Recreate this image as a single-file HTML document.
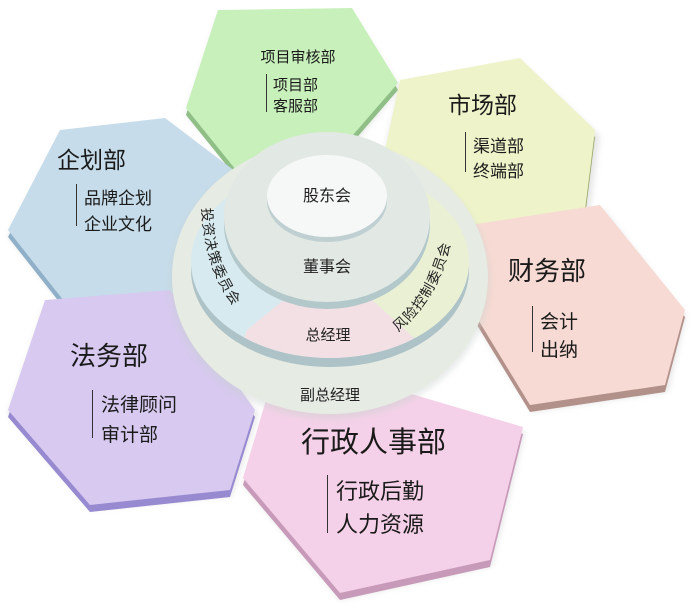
<!DOCTYPE html>
<html><head><meta charset="utf-8"><style>
html,body{margin:0;padding:0;background:#fff;}
svg{display:block;font-family:"Liberation Sans","Noto Sans CJK SC",sans-serif;}
</style></head><body>
<svg width="700" height="614" viewBox="0 0 700 614" xmlns="http://www.w3.org/2000/svg">
<defs>
<filter id="sh" x="-10%" y="-10%" width="130%" height="130%"><feGaussianBlur stdDeviation="3"/></filter>
</defs>
<g filter="url(#sh)" opacity="0.2" fill="#888">
<polygon points="218,16 352,14 400,88 345,155 242,180 186,114"/>
<polygon points="400,86 520,62 600,136 588,222 470,246 384,154"/>
<polygon points="60,136 166,122 244,180 202,306 75,320 8,236"/>
<polygon points="470,232 604,210 686,316 668,392 532,412 458,296"/>
<polygon points="45,306 172,294 258,414 232,496 90,510 8,414"/>
<polygon points="268,408 400,396 525,432 492,566 340,600 243,484"/>
</g>
<polygon points="218,17 352,15 398,90 340,157 240,182 186,115" fill="#8fbf86"/>
<polygon points="400,87 520,65 595,137 585,217 470,247 385,157" fill="#99a86e"/>
<polygon points="60,137 165,125 240,182 200,307 75,322 8,237" fill="#8fb0c8"/>
<polygon points="470,232 600,212 685,317 665,392 530,412 460,297" fill="#b3918b"/>
<polygon points="45,307 170,297 255,417 230,497 90,512 8,417" fill="#978ad0"/>
<polygon points="266,407 398,397 523,434 490,567 340,600 243,485" fill="#c79ab9"/>
<polygon points="218,10 352,8 398,83 340,150 240,175 186,108" fill="#c8f0bb"/>
<polygon points="400,80 520,58 595,130 585,210 470,240 385,150" fill="#eef3c9"/>
<polygon points="60,130 165,118 240,175 200,300 75,315 8,230" fill="#c6dcea"/>
<polygon points="470,225 600,205 685,310 665,385 530,405 460,290" fill="#f6dad3"/>
<polygon points="45,300 170,290 255,410 230,490 90,505 8,410" fill="#d7c9ef"/>
<polygon points="266,400 398,390 523,427 490,560 340,593 243,478" fill="#f4d1e8"/>

<ellipse cx="330" cy="281" rx="160" ry="138" fill="#c6d0cc" filter="url(#sh)" opacity="0.4"/>
<ellipse cx="330" cy="277" rx="158" ry="137" fill="#e6ebe4"/>
<ellipse cx="330" cy="270" rx="139" ry="97" fill="#aec3c7"/>
<clipPath id="mc"><ellipse cx="330" cy="262" rx="139" ry="96"/></clipPath>
<g clip-path="url(#mc)">
<rect x="180" y="150" width="300" height="220" fill="#d7eaef"/>
<polygon points="330,262 480,150 480,370 413,337" fill="#eaf0d3"/>
<polygon points="330,262 413,337 440,400 220,400 247,330" fill="#f3e0e4"/>
</g>
<ellipse cx="327" cy="224" rx="103" ry="85" fill="#b3c8cb"/>
<ellipse cx="327" cy="217" rx="103" ry="85" fill="#e2e8e3"/>
<ellipse cx="327" cy="201" rx="60" ry="41" fill="#c0d0d2"/>
<ellipse cx="327" cy="196" rx="60" ry="41" fill="#f6f8f7"/>

<g fill="#222">
<text x="327" y="201" font-size="16" text-anchor="middle">股东会</text>
<text x="327" y="272" font-size="16" text-anchor="middle">董事会</text>
<text x="328" y="340" font-size="15" text-anchor="middle">总经理</text>
<text x="330" y="400" font-size="15" text-anchor="middle">副总经理</text>
</g>
<path id="lp" d="M202,208 Q204,288 262,336" fill="none"/>
<path id="rp" d="M398,332 Q452,288 456,200" fill="none"/>
<text font-size="14" fill="#222" letter-spacing="1"><textPath href="#lp">投资决策委员会</textPath></text>
<text font-size="14" fill="#222" letter-spacing="1"><textPath href="#rp">风险控制委员会</textPath></text>

<g fill="#1a1a1a">
<text x="298" y="62" font-size="15" text-anchor="middle">项目审核部</text>
<rect x="266" y="74" width="1" height="38" fill="#333"/>
<text x="273" y="90" font-size="15">项目部</text>
<text x="273" y="111" font-size="15">客服部</text>

<text x="448" y="113" font-size="23">市场部</text>
<rect x="465" y="132" width="1" height="40" fill="#333"/>
<text x="473" y="152" font-size="17">渠道部</text>
<text x="473" y="177" font-size="17">终端部</text>

<text x="57" y="168" font-size="23">企划部</text>
<rect x="76" y="184" width="1" height="42" fill="#333"/>
<text x="84" y="204" font-size="17">品牌企划</text>
<text x="84" y="230" font-size="17">企业文化</text>

<text x="508" y="280" font-size="26">财务部</text>
<rect x="532" y="306" width="1" height="46" fill="#333"/>
<text x="540" y="328" font-size="19">会计</text>
<text x="540" y="356" font-size="19">出纳</text>

<text x="70" y="365" font-size="26">法务部</text>
<rect x="92" y="390" width="1" height="48" fill="#333"/>
<text x="101" y="411" font-size="19">法律顾问</text>
<text x="101" y="441" font-size="19">审计部</text>

<text x="301" y="452" font-size="29">行政人事部</text>
<rect x="327" y="475" width="1" height="58" fill="#333"/>
<text x="336" y="499" font-size="22">行政后勤</text>
<text x="336" y="532" font-size="22">人力资源</text>
</g>
</svg>
</body></html>
